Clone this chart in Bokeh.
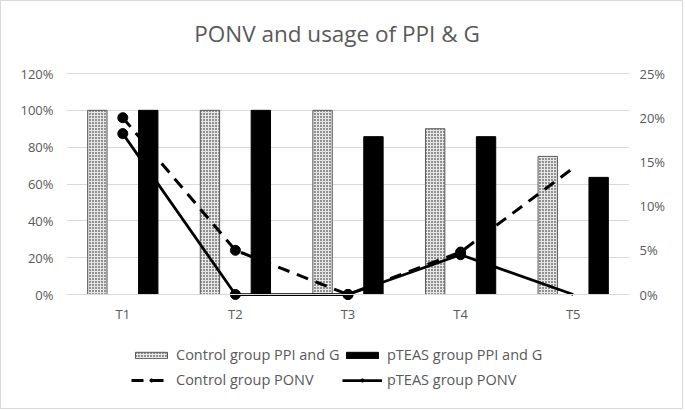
from bokeh.plotting import figure
from bokeh.models import (FactorRange, Range1d, LinearAxis, ColumnDataSource,
                          Legend, LegendItem, FixedTicker, CustomJSTickFormatter,
                          Label)
from bokeh.transform import dodge
from bokeh.embed import file_html
from bokeh.resources import INLINE

# ---- data ----
categories = ["T1", "T2", "T3", "T4", "T5"]
control_ppi = [100, 100, 100, 90, 75]          # % (left axis)
pteas_ppi = [100, 100, 85.7, 85.7, 63.6]       # % (left axis)
control_ponv = [20.0, 5.0, 0.0, 4.8, 14.3]     # % (right axis)
pteas_ponv = [18.2, 0.0, 0.0, 4.5, 0.0]        # % (right axis)
left_ticks = [0, 20, 40, 60, 80, 100, 120]
right_ticks = [0, 5, 10, 15, 20, 25]
title_text = "PONV and usage of PPI & G"

FONT = "Open Sans"
GREY_TXT = "#595959"
GRID = "#d9d9d9"

src = ColumnDataSource(dict(x=categories, c=control_ppi, t=pteas_ppi,
                            cp=control_ponv, tp=pteas_ponv))

# layout (pixels, inside a 1px border)
W, H = 683, 409
FL, FR = 65, 628            # frame left / right
FT, GT, FZ, FB = 4, 72, 293, 404   # frame top, top gridline, zero line, frame bottom
LMAX, RMAX = left_ticks[-1], right_ticks[-1]
px_l = (FZ - GT) / LMAX
px_r = (FZ - GT) / RMAX

def ly(py):   # pixel row -> left-axis data value
    return (FZ - py) / px_l

p = figure(width=W, height=H, x_range=FactorRange(*categories, range_padding=0),
           y_range=Range1d(ly(FB), ly(FT)), output_backend="svg",
           toolbar_location=None,
           min_border_left=FL, min_border_right=W - FR, min_border_top=FT,
           min_border_bottom=H - FB)
p.styles = {"border": "1px solid #d9d9d9"}
p.extra_y_ranges = {"right": Range1d(-(FB - FZ) / px_r, (FZ - FT) / px_r)}
p.outline_line_color = None
p.background_fill_color = "white"
p.border_fill_color = "white"

pct = CustomJSTickFormatter(code="return tick.toFixed(0) + '%';")

def style_axis(ax, standoff):
    ax.axis_line_color = None
    ax.major_tick_line_color = None
    ax.minor_tick_line_color = None
    ax.major_tick_out = 0
    ax.major_tick_in = 0
    ax.minor_tick_out = 0
    ax.minor_tick_in = 0
    ax.major_label_text_font = FONT
    ax.major_label_text_font_size = "13px"
    ax.major_label_text_color = GREY_TXT
    ax.major_label_standoff = standoff

ya = p.yaxis[0]
ya.ticker = FixedTicker(ticks=left_ticks)
ya.formatter = pct
style_axis(ya, 13)

ra = LinearAxis(y_range_name="right", ticker=FixedTicker(ticks=right_ticks),
                formatter=pct)
style_axis(ra, 10)
p.add_layout(ra, "right")

xa = p.xaxis[0]
xa.fixed_location = 0
style_axis(xa, 10)
xa.axis_line_color = GRID
xa.axis_line_width = 1

p.xgrid.grid_line_color = None
p.ygrid.grid_line_color = GRID
p.ygrid.grid_line_width = 1

title = Label(x=len(categories) / 2, y=ly(32), x_offset=-11, text=title_text,
              text_align="center", text_baseline="middle",
              text_font=FONT, text_font_size="22.5px", text_color=GREY_TXT)
p.add_layout(title)

BW = 0.172
OFF = 0.226
r_c = p.vbar(x=dodge("x", -OFF, range=p.x_range), top="c", width=BW, source=src,
             fill_color="#e6e6e6", line_color="#595959", line_width=1,
             hatch_pattern="dot", hatch_scale=3, hatch_color="#111111",
             hatch_weight=1)
r_t = p.vbar(x=dodge("x", OFF, range=p.x_range), top="t", width=BW, source=src,
             fill_color="black", line_color="black", line_width=1)

msrc = ColumnDataSource(dict(x=categories[:4], cp=control_ponv[:4], tp=pteas_ponv[:4]))

l_c = p.line("x", "cp", source=src, y_range_name="right", line_color="black",
             line_width=3, line_dash="12 8")
m_c = p.scatter("x", "cp", source=msrc, y_range_name="right", size=10,
                fill_color="black", line_color="black")
l_t = p.line("x", "tp", source=src, y_range_name="right", line_color="black",
             line_width=2.75)
m_t = p.scatter("x", "tp", source=msrc, y_range_name="right", size=10,
                fill_color="black", line_color="black")

def mk_legend(items, bottom_px):
    lg = Legend(items=items, orientation="horizontal",
                location=(130 - FL, FB - bottom_px))
    lg.border_line_color = None
    lg.background_fill_alpha = 0
    lg.padding = 0
    lg.margin = 0
    lg.spacing = 0
    lg.glyph_width = 40
    lg.glyph_height = 8
    lg.label_height = 16
    lg.label_width = 166
    lg.label_standoff = 5
    lg.label_text_font = FONT
    lg.label_text_font_size = "14.5px"
    lg.label_text_color = GREY_TXT
    return lg

lg1 = mk_legend([LegendItem(label="Control group PPI and G", renderers=[r_c]),
                 LegendItem(label="pTEAS group PPI and G", renderers=[r_t])], 363)
lg2 = mk_legend([LegendItem(label="Control group PONV", renderers=[l_c, m_c]),
                 LegendItem(label="pTEAS group PONV", renderers=[l_t, m_t])], 388)
p.add_layout(lg1, "center")
p.add_layout(lg2, "center")

open("out.html", "w").write(file_html(p, INLINE))
